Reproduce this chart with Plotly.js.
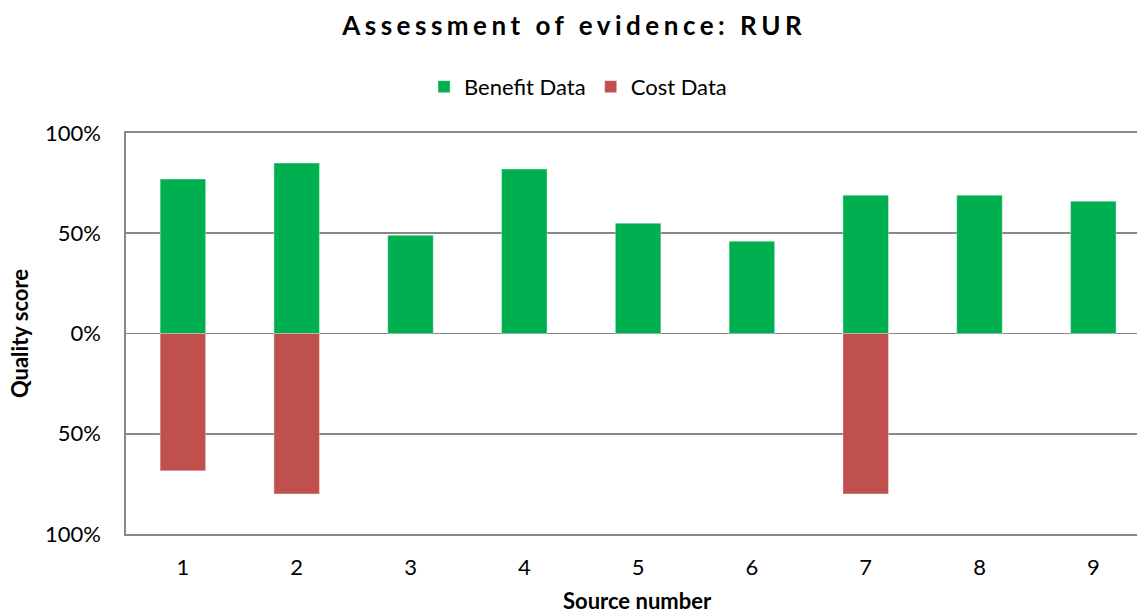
<!DOCTYPE html>
<html>
<head>
<meta charset="utf-8">
<script src="https://cdn.plot.ly/plotly-3.0.1.min.js"></script>
<style>
  html, body { margin: 0; padding: 0; background: #fff; }
  #chart { width: 1137px; height: 614px; }
  .gtitle { letter-spacing: 4.5px; }
</style>
</head>
<body>
<div id="chart"></div>
<script>
const sources = [1, 2, 3, 4, 5, 6, 7, 8, 9];
const benefitData = [0.77, 0.85, 0.49, 0.82, 0.55, 0.46, 0.69, 0.69, 0.66];
const costData = [-0.685, -0.80, null, null, null, null, -0.80, null, null];
const yTickVals = [1, 0.5, 0, -0.5, -1];
const yTickText = ['100%', '50%', '0%', '50%', '100%'];

const font = 'Lato, "Open Sans", sans-serif';
const gridColor = '#888888';

const traces = [
  {
    type: 'bar', name: 'Benefit Data', x: sources, y: benefitData, width: 0.4,
    marker: { color: '#00B050', line: { color: 'rgba(255,255,255,0.35)', width: 1 } },
    hoverinfo: 'x+y'
  },
  {
    type: 'bar', name: 'Cost Data', x: sources, y: costData, width: 0.4,
    marker: { color: '#C0504D', line: { color: 'rgba(255,255,255,0.35)', width: 1 } },
    hoverinfo: 'x+y'
  }
];

const layout = {
  width: 1137, height: 614,
  margin: { l: 126, r: 0, t: 133, b: 80 },
  paper_bgcolor: '#fff', plot_bgcolor: '#fff',
  barmode: 'relative',
  font: { family: font, size: 22, color: '#000' },
  title: {
    text: '<b>Assessment of evidence: RUR</b>',
    font: { family: font, size: 26, color: '#000' },
    x: 0.505, xanchor: 'center', y: 0.958, yanchor: 'middle'
  },
  showlegend: true,
  legend: {
    orientation: 'h', x: 0.2948, xanchor: 'left', y: 1.115, yanchor: 'middle',
    font: { family: font, size: 22, color: '#000' },
    itemwidth: 30, traceorder: 'normal'
  },
  annotations: [
    {
      text: '<b>Source number</b>', xref: 'paper', yref: 'paper',
      x: 0.5064, y: 0, xanchor: 'center', yanchor: 'middle', yshift: -66,
      showarrow: false, font: { family: font, size: 22, color: '#000' }
    }
  ],
  xaxis: {
    range: [0.5, 9.384],
    tickvals: sources, ticktext: sources.map(String),
    showgrid: false, zeroline: false,
    showline: true, mirror: true, linecolor: gridColor, linewidth: 1.6,
    ticks: 'outside', ticklen: 13, tickcolor: 'rgba(0,0,0,0)',
    tickfont: { family: font, size: 22 }
  },
  yaxis: {
    range: [-1, 1],
    tickvals: yTickVals, ticktext: yTickText,
    showgrid: true, gridcolor: gridColor, gridwidth: 1.6,
    zeroline: false,
    showline: true, linecolor: gridColor, linewidth: 1.6,
    ticks: 'outside', ticklen: 19, tickcolor: 'rgba(0,0,0,0)',
    tickfont: { family: font, size: 22 },
    title: { text: '<b>Quality score</b>', font: { family: font, size: 22 }, standoff: 10 }
  }
};

Plotly.newPlot('chart', traces, layout, { displayModeBar: false, staticPlot: true });
</script>
</body>
</html>
